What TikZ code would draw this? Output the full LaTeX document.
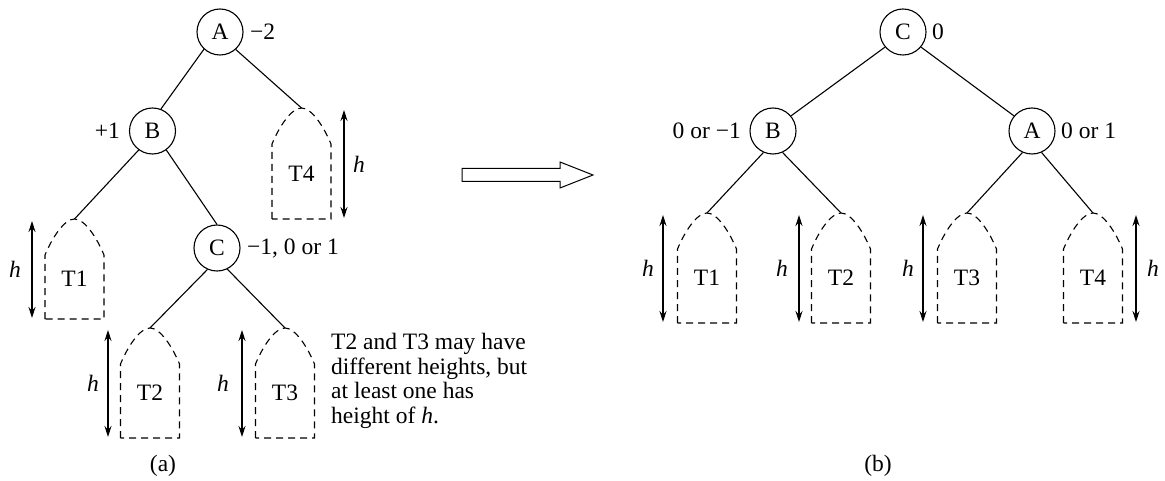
\documentclass[tikz,border=0pt]{standalone}
\usepackage{fontspec}
\setmainfont{Liberation Serif}
\usetikzlibrary{arrows.meta}
\newcommand\subtree[5]{% name, cx, ytop, ybot, label
  \coordinate (#1) at (#2,#3);
  \draw[subline] ({#2-29.5},#4) -- ({#2-29.5},{#3+36})
    .. controls ({#2-22},{#3+18}) and ({#2-10},#3) .. (#2,#3)
    .. controls ({#2+10},#3) and ({#2+22},{#3+18}) .. ({#2+29.5},{#3+36})
    -- ({#2+29.5},#4) -- cycle;
  \node (#1lab) at (#2,{(#3+#4)/2+10}) {#5};
}
\newcommand\hmark[5]{% name, x, y1, y2, labelx
  \coordinate (#1a) at (#2,#3);
  \coordinate (#1b) at (#2,#4);
  \draw[harrow] (#1a) -- (#1b);
  \node (#1lab) at (#5,{(#3+#4)/2}) {\textit{h}};
}
\begin{document}
\begin{tikzpicture}[x=1pt,y=-1pt,
  every node/.style={font=\fontsize{23.5}{24.7}\selectfont, inner sep=0pt},
  vtx/.style={draw, circle, minimum size=46pt, line width=1.1pt},
  edgeline/.style={line width=1.1pt},
  subline/.style={line width=1.1pt, dash pattern=on 7pt off 5pt},
  harrow/.style={{Stealth[length=11pt,width=7pt]}-{Stealth[length=11pt,width=7pt]}, line width=1.1pt},
]
\useasboundingbox (0,0) rectangle (1165,481);

% ---------- (a) ----------
\node[vtx] (aA) at (220,32) {A};
\node[vtx] (aB) at (152.5,131) {B};
\node[vtx] (aC) at (217,248) {C};
\node[anchor=west] (aAl) at (250,32) {−2};
\node[anchor=east] (aBl) at (120,131) {+1};
\node[anchor=west] (aCl) at (247,248) {−1, 0 or 1};

\subtree{aT4}{301.5}{108}{219}{T4}
\subtree{aT1}{74.5}{219}{319}{T1}
\subtree{aT2}{150}{328}{438}{T2}
\subtree{aT3}{285}{328}{438}{T3}

\draw[edgeline] (aA.-133) -- (aB.69);
\draw[edgeline] (aA.-48) -- (aT4);
\draw[edgeline] (aB.-126) -- (aT1);
\draw[edgeline] (aB.-54) -- (aC.north);
\draw[edgeline] (aC.-114) -- (aT2);
\draw[edgeline] (aC.-64) -- (aT3);

\hmark{ah4}{344}{110}{218}{359}
\hmark{ah1}{32}{221}{318}{15}
\hmark{ah2}{108}{330}{437}{93}
\hmark{ah3}{242}{330}{437}{223}

\node[anchor=north west, align=left] (note) at (331,333)
  {T2 and T3 may have\\different heights, but\\at least one has\\height of \textit{h}.};
\node (capa) at (163,466) {(a)};

% ---------- big arrow ----------
\draw[line width=1pt] (462,168.5) -- (560,168.5) -- (560,162) -- (593,175)
  -- (560,188) -- (560,181.5) -- (462,181.5) -- cycle;

% ---------- (b) ----------
\node[vtx] (bC) at (903,32) {C};
\node[vtx] (bB) at (773,131) {B};
\node[vtx] (bA) at (1032,131) {A};
\node[anchor=west] (bCl) at (932,32) {0};
\node[anchor=east] (bBl) at (741,131) {0 or −1};
\node[anchor=west] (bAl) at (1061,131) {0 or 1};

\subtree{bT1}{707}{213}{323}{T1}
\subtree{bT2}{841}{213}{323}{T2}
\subtree{bT3}{967}{213}{323}{T3}
\subtree{bT4}{1093}{213}{323}{T4}

\draw[edgeline] (bC.-140) -- (bB.40);
\draw[edgeline] (bC.-40) -- (bA.140);
\draw[edgeline] (bB.-114) -- (bT1);
\draw[edgeline] (bB.-66) -- (bT2);
\draw[edgeline] (bA.-114) -- (bT3);
\draw[edgeline] (bA.-66) -- (bT4);

\hmark{bh1}{663}{215}{322}{648}
\hmark{bh2}{799}{215}{322}{782}
\hmark{bh3}{923}{215}{322}{908}
\hmark{bh4}{1136}{215}{322}{1153}

\node (capb) at (878,466) {(b)};
\end{tikzpicture}
\end{document}
